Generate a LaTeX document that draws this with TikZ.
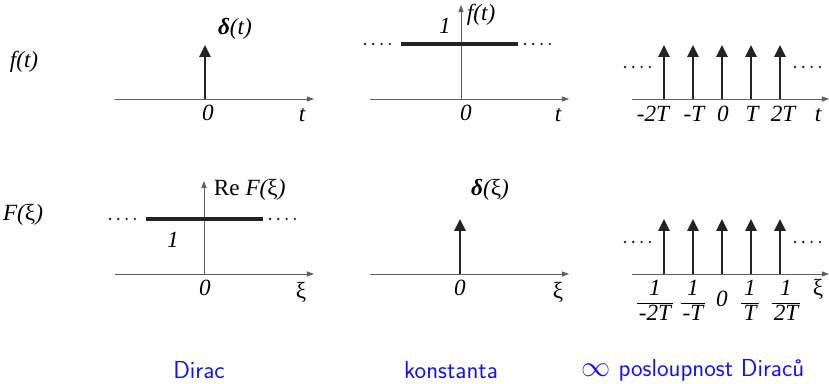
\documentclass[tikz,border=0pt]{standalone}
\usepackage{fontspec}
\setmainfont{Liberation Serif}
\usetikzlibrary{arrows.meta, positioning}
\definecolor{diracblue}{RGB}{20,20,240}
\definecolor{axisgray}{RGB}{95,95,95}
\definecolor{spikeblack}{RGB}{35,35,35}

\begin{document}
\begin{tikzpicture}[x=0.025cm, y=-0.025cm, every node/.style={font=\fontsize{16.5}{19}\selectfont\itshape}]
    \tikzstyle{axis} = [axisgray, line width=0.6pt, -{Triangle[length=5pt,width=3.6pt]}]
    \tikzstyle{spike} = [spikeblack, line width=1.8pt, -{Triangle[length=8.5pt,width=7.8pt]}]
    \tikzstyle{level} = [spikeblack, line width=2.2pt]
    \tikzstyle{dotrow} = [spikeblack, line width=1.9pt, line cap=round, dash pattern=on 0pt off 5.9pt]
    \tikzstyle{caption} = [font=\fontsize{17.5}{20}\selectfont\sffamily\upshape, text=diracblue]
    \tikzstyle{ratio} = [inner sep=0pt, font=\fontsize{16.5}{19}\selectfont\itshape]

    \useasboundingbox (0,0) rectangle (829,383);

    % row labels
    \node (ft) at (24,62) {f(t)};
    \node (Fxi) at (23,215) {F({\upshape ξ})};

    % Dirac, time domain
    \coordinate (a1l) at (115,99);
    \coordinate (a1r) at (314,99);
    \draw [axis] (a1l) -- (a1r);
    \coordinate (s1o) at (205,99);
    \coordinate (s1p) at (205,45);
    \draw [spike] (s1o) -- (s1p);
    \node (s1lab) at (235,29) {\textbf{δ}(t)};
    \node (a1zero) at (208,113) {0};
    \node (a1t) at (302,115) {t};

    % constant, time domain
    \coordinate (a2l) at (370,99);
    \coordinate (a2r) at (569,99);
    \draw [axis] (a2l) -- (a2r);
    \coordinate (v2b) at (461,99);
    \coordinate (v2t) at (461,5);
    \draw [axis] (v2b) -- (v2t);
    \coordinate (l2l) at (401,44);
    \coordinate (l2r) at (518,44);
    \draw [level] (l2l) -- (l2r);
    \draw [dotrow] (365,44) -- ++(26,0);
    \draw [dotrow] (525,44) -- ++(26,0);
    \node (l2one) at (445,26) {1};
    \node (v2lab) [anchor=west] at (462,15) {f(t)};
    \node (a2zero) at (466,113) {0};
    \node (a2t) at (558,115) {t};

    % Dirac comb, time domain
    \coordinate (a3l) at (632,99);
    \coordinate (a3r) at (829,99);
    \draw [axis] (a3l) -- (a3r);
    \foreach \x/\lx/\lab in {664/653/-2T, 693/694/-T, 722/723/0, 751/752/T, 780/783/2T} {
        \coordinate (c\x) at (\x,99);
        \coordinate (p\x) at (\x,45);
        \draw [spike] (c\x) -- (p\x);
        \node (n\x) at (\lx,114) {\lab};
    }
    \draw [dotrow] (625,67) -- ++(26,0);
    \draw [dotrow] (795,67) -- ++(26,0);
    \node (a3t) at (818,115) {t};

    % constant spectrum
    \coordinate (b1l) at (115,274);
    \coordinate (b1r) at (314,274);
    \draw [axis] (b1l) -- (b1r);
    \coordinate (w1b) at (204,274);
    \coordinate (w1t) at (204,181);
    \draw [axis] (w1b) -- (w1t);
    \coordinate (m1l) at (146,219);
    \coordinate (m1r) at (263,219);
    \draw [level] (m1l) -- (m1r);
    \draw [dotrow] (110,219) -- ++(26,0);
    \draw [dotrow] (270,219) -- ++(26,0);
    \node (w1lab) [anchor=west] at (209,190) {{\upshape Re} F({\upshape ξ})};
    \node (m1one) at (173,240) {1};
    \node (b1zero) at (205,288) {0};
    \node (b1xi) at (301,292) {\upshape ξ};

    % Dirac spectrum
    \coordinate (b2l) at (370,274);
    \coordinate (b2r) at (569,274);
    \draw [axis] (b2l) -- (b2r);
    \coordinate (t2o) at (460,274);
    \coordinate (t2p) at (460,219);
    \draw [spike] (t2o) -- (t2p);
    \node (t2lab) at (490,190) {\textbf{δ}({\upshape ξ})};
    \node (b2zero) at (460,288) {0};
    \node (b2xi) at (558,292) {\upshape ξ};

    % Dirac comb spectrum
    \coordinate (b3l) at (632,274);
    \coordinate (b3r) at (829,274);
    \draw [axis] (b3l) -- (b3r);
    \foreach \x in {664, 693, 722, 751, 780} {
        \coordinate (e\x) at (\x,274);
        \coordinate (q\x) at (\x,219);
        \draw [spike] (e\x) -- (q\x);
    }
    \draw [dotrow] (625,242) -- ++(26,0);
    \draw [dotrow] (795,242) -- ++(26,0);
    \foreach \lx/\den in {655/-2T, 693/-T, 750/T, 786/2T} {
        \node (f\lx) [ratio] at (\lx,303) {\setlength{\tabcolsep}{1.5pt}\renewcommand{\arraystretch}{0.9}\begin{tabular}{c}1\\\hline \den\end{tabular}};
    }
    \node (b3zero) at (722,299) {0};
    \node (b3xi) at (818,289) {\upshape ξ};

    % captions
    \node (capa) [caption] at (199,370) {Dirac};
    \node (capb) [caption] at (451,370) {konstanta};
    \node (capc) [caption] at (693,370) {{\fontsize{20}{20}\selectfont$\infty$} posloupnost Diraců};
\end{tikzpicture}
\end{document}
